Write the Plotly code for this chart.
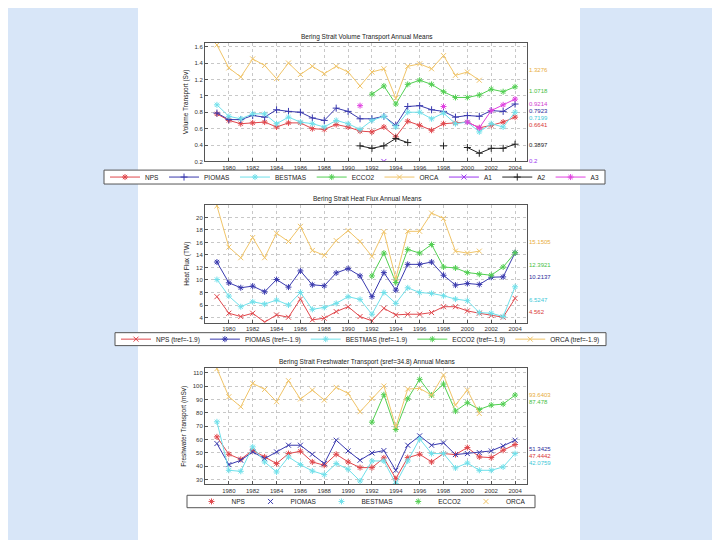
import plotly.graph_objects as go

# ---------------- data ----------------
years = list(range(1979, 2005))
tick_years = list(range(1980, 2005, 2))

# Volume transport (Sv)
nps_vol = [0.78, 0.70, 0.66, 0.67, 0.68, 0.62, 0.67, 0.67, 0.60, 0.59, 0.65, 0.62, 0.57,
           0.56, 0.62, 0.50, 0.69, 0.64, 0.58, 0.66, 0.67, 0.68, 0.61, 0.64, 0.68, 0.74]
pio_vol = [0.79, 0.71, 0.71, 0.76, 0.74, 0.83, 0.81, 0.80, 0.73, 0.70, 0.85, 0.81, 0.72,
           0.72, 0.75, 0.64, 0.87, 0.88, 0.83, 0.81, 0.74, 0.76, 0.75, 0.82, 0.81, 0.90]
best_vol = [0.89, 0.75, 0.72, 0.78, 0.78, 0.66, 0.74, 0.68, 0.66, 0.62, 0.70, 0.66, 0.59,
            0.70, 0.75, 0.62, 0.80, 0.80, 0.72, 0.79, 0.66, 0.68, 0.56, 0.66, 0.62, 0.80]
ecco_vol = [None] * 13 + [1.02, 1.12, 0.90, 1.14, 1.19, 1.14, 1.05, 0.98, 0.98, 1.01, 1.08, 1.05, 1.11]
orca_vol = [1.62, 1.34, 1.23, 1.45, 1.37, 1.21, 1.40, 1.26, 1.36, 1.27, 1.36, 1.29, 1.12,
            1.29, 1.33, 0.97, 1.36, 1.39, 1.33, 1.49, 1.25, 1.29, 1.19, None, None, None]
a1_vol = [None] * 14 + [0.20] + [None] * 11
a2_vol = [None] * 12 + [0.39, 0.36, 0.39, 0.48, 0.43, None, None, 0.39, None, 0.37, 0.30, 0.36, 0.36, 0.41]
a3_vol = [None] * 12 + [0.88] + [None] * 6 + [0.87, None, 0.68, 0.61, 0.82, 0.89, 0.96]
vol_mean_labels = ["1.3276", "1.0718", "0.9214", "0.7923", "0.7199", "0.6641", "0.3897", "0.2"]

# Heat flux (TW)
nps_heat = [7.33, 4.69, 4.16, 4.69, 3.26, 4.42, 4.05, 6.95, 3.63, 3.90, 4.95, 5.73, 4.16,
            3.47, 5.48, 4.42, 4.53, 4.53, 4.79, 5.73, 5.73, 5.06, 4.69, 4.32, 4.05, 7.06]
pio_heat = [12.87, 9.55, 8.76, 9.02, 8.12, 10.07, 8.86, 11.45, 9.23, 9.07, 11.13, 11.82, 10.66,
            7.33, 11.18, 8.38, 12.5, 12.5, 12.87, 10.76, 9.18, 9.44, 9.28, 10.44, 10.5, 14.35]
best_heat = [10.07, 7.43, 5.73, 6.52, 6.15, 6.79, 6.00, 8.00, 5.31, 5.62, 6.26, 7.33, 6.90,
             4.53, 8.00, 6.26, 8.75, 8.00, 7.85, 7.48, 6.95, 6.69, 4.79, 4.69, 4.16, 8.91]
ecco_heat = [None] * 13 + [10.65, 14.3, 9.6, 14.88, 14.3, 15.67, 12.08, 11.92, 11.18, 10.92, 10.76, 12.08, 14.35]
orca_heat = [21.85, 15.25, 13.56, 16.78, 13.56, 17.47, 16.15, 18.57, 14.72, 13.93, 16.3, 17.89, 16.15,
             13.77, 17.73, 10.23, 17.78, 17.78, 20.69, 19.84, 14.61, 14.3, 14.61, None, None, None]
heat_mean_labels = ["15.1505", "12.3921", "10.2137", "6.5247", "4.562"]

# Freshwater transport (mSv)
nps_fw = [62, 49, 45.25, 52, 47, 42, 49.5, 51.25, 43.25, 40.75, 49, 43.25, 39,
          39, 46.25, 30.75, 46.5, 49, 43.25, 49.5, 48.75, 54, 47, 46.5, 52, 56.25]
pio_fw = [57, 41.25, 44.5, 50.75, 45.75, 50.75, 55.75, 55.75, 49, 42, 59.5, 51.5, 44.5,
          50, 51.75, 37, 55.75, 62.75, 55.75, 57.5, 48.75, 49.5, 50.25, 51.5, 55.25, 59.5]
best_fw = [73.25, 37, 36.25, 54.5, 43.25, 35.75, 47, 41.25, 36.5, 33.75, 42, 37.75, 29,
           44, 44, 27, 44, 60.5, 49.5, 49.5, 38.75, 42.5, 37, 37, 39.5, 49.5]
ecco_fw = [None] * 13 + [73, 93.5, 67.5, 90.5, 105, 93.25, 101.5, 81.25, 87.5, 82.5, 85.75, 86.5, 93.25]
orca_fw = [113, 92, 84.5, 102, 97.5, 88.3, 104, 90.3, 97, 89.5, 99, 94.5, 80.8,
           90.75, 100, 69.5, 97.75, 98.25, 93.25, 108.25, 85.75, 97, 79.5, None, None, None]
fw_mean_labels = ["93.6403", "87.478", "51.3425", "47.4442", "42.0759"]

# ---------------- styling ----------------
C = {"NPS": "#e0474c", "PIOMAS": "#3a3aae", "BESTMAS": "#6fe0ea", "ECCO2": "#52cf52",
     "ORCA": "#f0c468", "A1": "#9b35f0", "A2": "#222222", "A3": "#e040e0"}
FONT = "Liberation Sans, Arial, sans-serif"
W, H = 720, 540
OFF = 8  # page body margin offset


def px(x):
    return (x - OFF) / W


def py(y):
    return 1 - (y - OFF) / H


fig = go.Figure()


def add(y, name, symbol, axn, legend, label=None, mode="lines+markers", showlegend=True):
    fig.add_trace(go.Scatter(
        x=years, y=y, name=label or name, mode=mode, connectgaps=False,
        line=dict(color=C[name], width=1),
        marker=dict(symbol=symbol, size=5, color=C[name], line=dict(color=C[name], width=1)),
        xaxis="x" + ("" if axn == 1 else str(axn)), yaxis="y" + ("" if axn == 1 else str(axn)),
        legend=legend, showlegend=showlegend, hoverinfo="x+y+name"))


# plot 1
add(nps_vol, "NPS", "asterisk-open", 1, "legend")
add(pio_vol, "PIOMAS", "cross-thin-open", 1, "legend")
add(best_vol, "BESTMAS", "asterisk-open", 1, "legend")
add(ecco_vol, "ECCO2", "asterisk-open", 1, "legend")
add(orca_vol, "ORCA", "x-thin-open", 1, "legend")
add(a1_vol, "A1", "x-thin-open", 1, "legend")
add(a2_vol, "A2", "cross-thin-open", 1, "legend")
add(a3_vol, "A3", "asterisk-open", 1, "legend")

# plot 2
tref = " (tref=-1.9)"
add(nps_heat, "NPS", "x-thin-open", 2, "legend2", "NPS" + tref)
add(pio_heat, "PIOMAS", "asterisk-open", 2, "legend2", "PIOMAS" + tref)
add(best_heat, "BESTMAS", "asterisk-open", 2, "legend2", "BESTMAS" + tref)
add(ecco_heat, "ECCO2", "asterisk-open", 2, "legend2", "ECCO2" + tref)
add(orca_heat, "ORCA", "x-thin-open", 2, "legend2", "ORCA" + tref)

# plot 3 : lines without legend, markers with legend
for yv, nm, sym in [(nps_fw, "NPS", "asterisk-open"), (pio_fw, "PIOMAS", "x-thin-open"),
                    (best_fw, "BESTMAS", "asterisk-open"), (ecco_fw, "ECCO2", "asterisk-open"),
                    (orca_fw, "ORCA", "x-thin-open")]:
    add(yv, nm, sym, 3, "legend3", mode="lines", showlegend=False)
    add(yv, nm, sym, 3, "legend3", mode="markers")

# ---------------- axes ----------------
xdom = [px(205), px(527)]


def ydom(top, bottom):
    return [py(bottom), py(top)]


axis_common = dict(showline=True, mirror=True, linecolor="#555555", linewidth=1,
                   showgrid=True, gridcolor="#c8c8c8", griddash="dot", gridwidth=1,
                   ticks="inside", ticklen=3, tickcolor="#555555", zeroline=False,
                   tickfont=dict(family=FONT, size=6, color="#333333"))

layout_axes = {}
for i, (top, bottom, yr, ytv, ytt, ttl) in enumerate([
        (42.7, 162.3, [0.2, 1.65], [0.2, 0.4, 0.6, 0.8, 1.0, 1.2, 1.4, 1.6],
         ["0.2", "0.4", "0.6", "0.8", "1", "1.2", "1.4", "1.6"], "Volume Transport (Sv)"),
        (206, 324.3, [3.2, 22], list(range(4, 21, 2)), [str(v) for v in range(4, 21, 2)], "Heat Flux (TW)"),
        (370, 487, [26.5, 113.5], list(range(30, 111, 10)), [str(v) for v in range(30, 111, 10)],
         "Freshwater Transport (mSv)")], start=1):
    sfx = "" if i == 1 else str(i)
    layout_axes["xaxis" + sfx] = dict(axis_common, domain=xdom, range=[1978, 2005],
                                      tickvals=tick_years, ticktext=[str(t) for t in tick_years],
                                      anchor="y" + sfx)
    layout_axes["yaxis" + sfx] = dict(axis_common, domain=ydom(top, bottom), range=yr,
                                      tickvals=ytv, ticktext=ytt, anchor="x" + sfx,
                                      title=dict(text=ttl, font=dict(family=FONT, size=6.5, color="#222222"),
                                                 standoff=5))

fig.update_layout(**layout_axes)

# ---------------- annotations ----------------
ann = []
titles = [("Bering Strait Volume Transport Annual Means", 37),
          ("Bering Strait Heat Flux Annual Means", 200),
          ("Bering Strait Freshwater Transport (sref=34.8) Annual Means", 364)]
for t, ypx in titles:
    ann.append(dict(text=t, x=px(367), y=py(ypx), xref="paper", yref="paper",
                    showarrow=False, xanchor="center", yanchor="middle",
                    font=dict(family=FONT, size=6.5, color="#222222")))

label_x = px(527)
LBL = 6
# label rows (pixel y in the reference) for the series means
vol_cols = ["#e8ac3c", "#45c045", "#d040d0", "#2a2a9a", "#40c8d8", "#d83838", "#222222", "#9b35f0"]
vol_rows = [70, 91, 104.5, 111.5, 118.5, 125.5, 146, 162]
for lab, col, row in zip(vol_mean_labels, vol_cols, vol_rows):
    ann.append(dict(text=lab, x=label_x, y=py(row), xref="paper", yref="paper",
                    showarrow=False, xanchor="left", yanchor="middle",
                    font=dict(family=FONT, size=LBL, color=col)))
heat_cols = ["#e8ac3c", "#45c045", "#2a2a9a", "#40c8d8", "#d83838"]
heat_rows = [243, 266, 279, 302, 314]
for lab, col, row in zip(heat_mean_labels, heat_cols, heat_rows):
    ann.append(dict(text=lab, x=label_x, y=py(row), xref="paper", yref="paper",
                    showarrow=False, xanchor="left", yanchor="middle",
                    font=dict(family=FONT, size=LBL, color=col)))
fw_cols = ["#e8ac3c", "#45c045", "#2a2a9a", "#d83838", "#40c8d8"]
fw_rows = [397, 404.5, 451.5, 458.5, 465.5]
for lab, col, row in zip(fw_mean_labels, fw_cols, fw_rows):
    ann.append(dict(text=lab, x=label_x, y=py(row), xref="paper", yref="paper",
                    showarrow=False, xanchor="left", yanchor="middle",
                    font=dict(family=FONT, size=LBL, color=col)))

# legends: borderless plotly legends, framed by a thin box of the reference's height
leg_common = dict(orientation="h", xanchor="center", yanchor="middle", bgcolor="rgba(255,255,255,0)",
                  borderwidth=0, itemwidth=30,
                  font=dict(family=FONT, size=6.5, color="#222222"), tracegroupgap=0)
legend_boxes = [(104, 605, 171, 185), (115, 606, 334.5, 347.5), (187, 535, 498, 510.5)]
shapes = [dict(type="rect", xref="paper", yref="paper", x0=px(138), x1=px(580), y0=0, y1=1.02,
               fillcolor="white", line=dict(width=0), layer="below")]
for x0, x1, y0, y1 in legend_boxes:
    shapes.append(dict(type="rect", xref="paper", yref="paper", x0=px(x0), x1=px(x1),
                       y0=py(y1), y1=py(y0), fillcolor="white",
                       line=dict(color="#555555", width=1), layer="below"))

fig.update_layout(
    width=W, height=H, autosize=False,
    margin=dict(l=0, r=0, t=0, b=0, pad=0),
    paper_bgcolor="#d8e6f8", plot_bgcolor="white",
    font=dict(family=FONT, size=6.5, color="#222222"),
    annotations=ann,
    shapes=shapes,
    legend=dict(leg_common, x=px(354.5), y=py(178)),
    legend2=dict(leg_common, x=px(360.5), y=py(341)),
    legend3=dict(leg_common, x=px(361), y=py(504.2)),
    showlegend=True,
)

fig.write_html("out.html")
